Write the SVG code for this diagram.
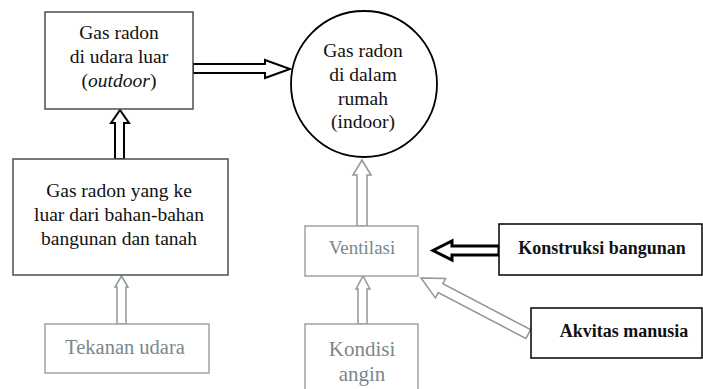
<svg xmlns="http://www.w3.org/2000/svg" width="703" height="389" viewBox="0 0 703 389" font-family="Liberation Serif, DejaVu Serif, serif">
<style>
text{font-family:'Liberation Serif','DejaVu Serif',serif;font-size:19.5px;text-anchor:middle;fill:#111}
.g text{fill:#7b878d}
.dk{fill:#fff;stroke:#4a4f52;stroke-width:1.5}
.lt{fill:#fff;stroke:#9aa3a8;stroke-width:1.5}
.bk{fill:#fff;stroke:#000;stroke-width:1.5}
text.b{font-weight:bold;font-size:18px}
.ab{fill:#fff;stroke:#000;stroke-width:2}
.ag{fill:#fff;stroke:#8e979c;stroke-width:1.5}
.ak{fill:#fff;stroke:#000;stroke-width:3}
</style>
<rect width="703" height="389" fill="#fff"/>
<g id="connectors">
<polygon class="ab" points="193,64 265,64 265,60 290,69 265,78 265,73 193,73"/>
<polygon class="ab" points="115,159 115,123 111,123 120,110 129,123 124,123 124,159"/>
<polygon class="ag" points="117,324 117,287 115,287 121.5,276 128,287 126,287 126,324"/>
<polygon class="ag" points="357,226 357,175 353,175 362,160 371,175 367,175 367,226"/>
<polygon class="ag" points="358,324 358,289 356,289 363,276 370,289 367,289 367,324"/>
<polygon class="ak" points="499,246 452,246 452,241 433,250.5 452,260 452,255 499,255"/>
<polygon class="ag" stroke-width="2" transform="translate(421,278) rotate(27.6)" points="0,0 22,-11 22,-5 121,-5 121,5 22,5 22,11"/>
</g>
<g id="outdoor">
<rect class="dk" x="45" y="12" width="148" height="97"/>
<text x="119" y="39">Gas radon</text>
<text x="119" y="63">di udara luar</text>
<text x="119" y="87">(<tspan font-style="italic">outdoor</tspan>)</text>
</g>
<g id="indoor">
<circle cx="364" cy="84" r="73" fill="#fff" stroke="#000" stroke-width="1.8"/>
<text x="363" y="57">Gas radon</text>
<text x="363" y="81">di dalam</text>
<text x="363" y="105">rumah</text>
<text x="363" y="128">(indoor)</text>
</g>
<g id="sumber">
<rect class="dk" x="13" y="159" width="215" height="116"/>
<text x="119" y="197">Gas radon yang ke</text>
<text x="119" y="221">luar dari bahan-bahan</text>
<text x="119" y="245">bangunan dan tanah</text>
</g>
<g id="tekanan" class="g">
<rect class="lt" x="45" y="324" width="164" height="49"/>
<text x="125" y="354" style="font-size:20.5px">Tekanan udara</text>
</g>
<g id="ventilasi" class="g">
<rect class="lt" x="305" y="226" width="113" height="50"/>
<text x="362" y="254" style="font-size:19px">Ventilasi</text>
</g>
<g id="kondisi" class="g">
<rect class="lt" x="305" y="324" width="113" height="70"/>
<text x="362" y="356" style="font-size:21px">Kondisi</text>
<text x="362" y="381" style="font-size:21px">angin</text>
</g>
<g id="konstruksi">
<rect class="bk" x="499" y="224" width="203" height="51"/>
<text class="b" x="602" y="254">Konstruksi bangunan</text>
</g>
<g id="aktivitas">
<rect class="bk" x="531" y="308" width="171" height="50"/>
<text class="b" x="624" y="337">Akvitas manusia</text>
</g>
</svg>
